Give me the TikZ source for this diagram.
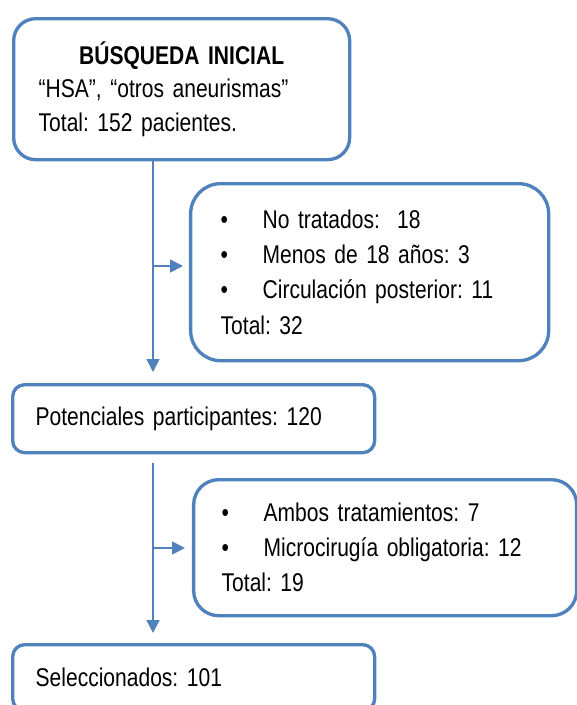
\documentclass[tikz,border=0pt]{standalone}
\usepackage{fontspec}
\setmainfont{Liberation Sans}[FakeStretch=0.82]
\usetikzlibrary{arrows.meta, calc, positioning}
\definecolor{marco}{HTML}{4F81BD}
\frenchspacing

\begin{document}
\begin{tikzpicture}[
        caja/.style={draw=marco, line width=1.9pt, anchor=north west, align=left, inner ysep=0pt,
            font=\fontsize{14.6pt}{20pt}\selectfont},
        flecha/.style={draw=marco, line width=1pt, -{Triangle[length=0.26cm, width=0.26cm]}}
    ]
    \useasboundingbox (0, 0) rectangle (11.54, -14.1);

    \node[caja, rounded corners=0.44cm, inner xsep=0.5cm, text width=5.72cm, minimum height=2.82cm,
        font=\fontsize{14.6pt}{19pt}\selectfont] (busqueda) at (0.24, -0.34)
        {\makebox[\linewidth][c]{\bfseries BÚSQUEDA INICIAL}\\
         “HSA”, “otros aneurismas”\\
         Total: 152 pacientes.};
    \node[caja, rounded corners=0.6cm, inner xsep=0.6cm, text width=5.96cm, minimum height=3.54cm] (exclusion1) at (3.78, -3.64)
        {\makebox[0.84cm][l]{\textbullet}No tratados:~~18\\
         \makebox[0.84cm][l]{\textbullet}Menos de 18 años: 3\\
         \makebox[0.84cm][l]{\textbullet}Circulación posterior: 11\\
         Total: 32};
    \node[caja, rounded corners=0.24cm, inner xsep=0.46cm, text width=6.32cm, minimum height=1.36cm] (potenciales) at (0.22, -7.66)
        {Potenciales participantes: 120};
    \node[caja, rounded corners=0.5cm, inner xsep=0.56cm, text width=6.54cm, minimum height=2.72cm] (exclusion2) at (3.84, -9.56)
        {\makebox[0.84cm][l]{\textbullet}Ambos tratamientos: 7\\
         \makebox[0.84cm][l]{\textbullet}Microcirugía obligatoria: 12\\
         Total: 19};
    \node[caja, rounded corners=0.24cm, inner xsep=0.46cm, text width=6.32cm, minimum height=1.32cm] (seleccionados) at (0.22, -12.86)
        {Seleccionados: 101};

    \coordinate (eje) at (3.06, 0);
    \coordinate (rama1) at (3.06, -5.32);
    \coordinate (rama2) at (3.06, -10.96);

    \draw[flecha, shorten >=0.22cm] (busqueda.south -| eje) -- (potenciales.north -| eje);
    \draw[flecha, shorten >=0.12cm] (rama1) -- (rama1 -| exclusion1.west);
    \draw[flecha, shorten <=0.18cm, shorten >=0.2cm] (potenciales.south -| eje) -- (seleccionados.north -| eje);
    \draw[flecha, shorten >=0.14cm] (rama2) -- (rama2 -| exclusion2.west);
\end{tikzpicture}
\end{document}
